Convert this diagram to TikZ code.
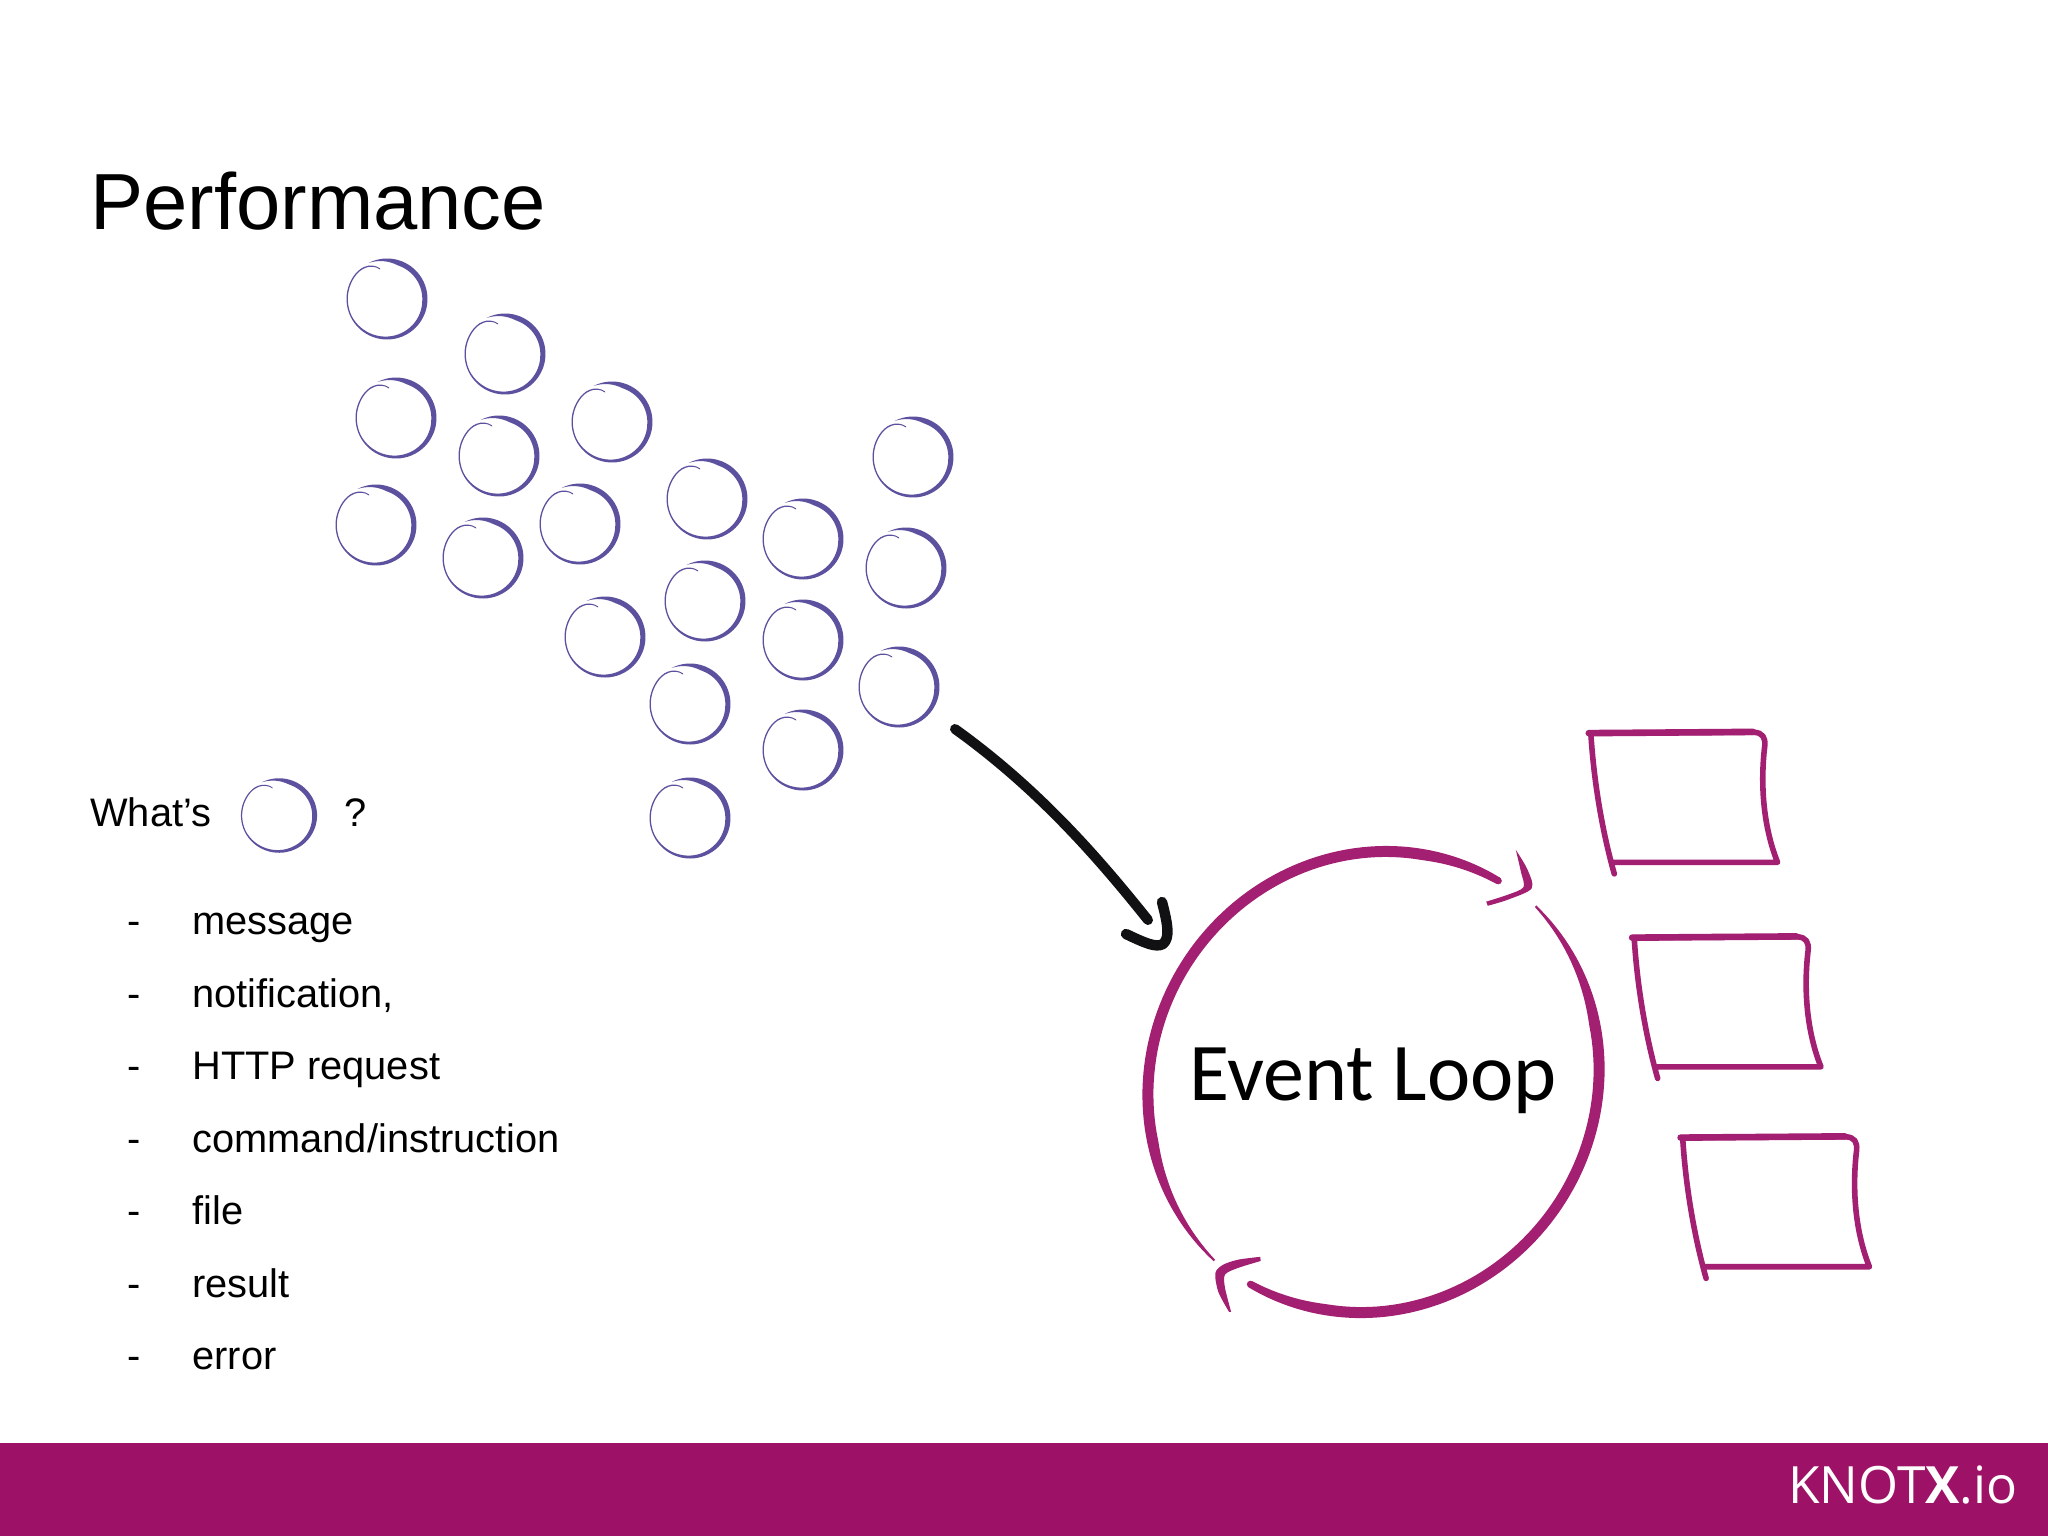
\documentclass[tikz,border=0pt]{standalone}
\usepackage{fontspec}
\setmainfont{Liberation Sans}
\newfontfamily\calibrifont{Carlito}
\newfontfamily\logofont{Open Sans}
\definecolor{bubblecol}{HTML}{5B519F}
\definecolor{ringcol}{HTML}{A31F72}
\definecolor{barcol}{HTML}{9D1266}
\definecolor{inkcol}{HTML}{111114}
\tikzset{
  x=0.5pt,y=-0.5pt,
  title/.style={inner sep=0pt,anchor=base west,font=\fontsize{39.8}{48}\selectfont},
  body/.style={inner sep=0pt,anchor=base west,font=\fontsize{19.9}{24}\selectfont},
  looplabel/.style={inner sep=0pt,anchor=base west,font=\calibrifont\fontsize{41}{48}\selectfont},
  logo/.style={inner sep=0pt,anchor=base east,text=white,font=\logofont\fontsize{25.7}{30}\selectfont},
  inkline/.style={draw=inkcol,line width=5pt,line cap=round,line join=round},
  sheet/.style={draw=ringcol,line width=2.8pt,line join=round,line cap=round},
  bubble/.pic={
    % a hand drawn ring: a stroke of varying width that runs clockwise and spirals in at its end
    \fill[bubblecol]
      plot[domain=117:-257,samples=70] ({-\x}:{ro(\x)})
      -- plot[domain=-257:117,samples=70] ({-\x}:{ro(\x)-wd(\x)})
      -- cycle;
  },
  declare function={
    uu(\t)=(117-\t)/374;
    ss(\t)=max(0,(-212-\t)/45);
    ro(\t)=40.5-9*ss(\t)*ss(\t)*ss(\t);
    wd(\t)=min(1,uu(\t)/0.12)*(1.3+3.9*min(1,max(0,(0.72-uu(\t))/0.4)));
    ringx(\t,\d)=1373.5+(231+\d)*cos(\t)+0.03*(236+\d)*sin(\t);
    ringy(\t,\d)=1082-((236+\d)*sin(\t)+0.025*(231+\d)*cos(\t));
    ringw(\u)=min(min(2+9*\u/0.2,11),7+4*(1-\u)/0.12);
  },
}
\begin{document}
\begin{tikzpicture}
\useasboundingbox (0,0) rectangle (2048,1536);
\fill[white] (0,0) rectangle (2048,1536);
\fill[barcol] (0,1443) rectangle (2048,1536);
\node[logo] (logotext) at (2018,1503) {KNOT\textbf{X}.io};

\node[title] (titletext) at (90,229) {Performance};

\foreach \cx/\cy in {387/299,505/354,396/418,499/456,612/422,376/525,483/558,580/524,
  707/499,803/539,913/457,906/568,705/601,803/640,899/687,605/637,690/704,803/750,690/818}
  \pic at (\cx,\cy) {bubble};

\node[body] (whats) at (90,826) {What’s};
\pic[xscale=0.94,yscale=0.92] at (279,815.5) {bubble};
\node[body] (qmark) at (344,826) {?};

\foreach \yy/\txt [count=\i] in {934/message,1007/{notification,},1079/HTTP request,1152/{command/instruction},1224/file,1297/result,1369/error}{
  \node[body] (dash\i) at (127,\yy) {-};
  \node[body] (item\i) at (192,\yy) {\txt};
}

% black arrow
\coordinate (arrowstart) at (955,729);
\coordinate (arrowend) at (1148,920);
\draw[inkline] (arrowstart) .. controls (1040,790) and (1100,860) .. (arrowend);
\draw[inkline,line width=5.2pt] (1126,934) .. controls (1145,943) and (1156,948) .. (1163,944)
  .. controls (1170,938) and (1168,925) .. (1162,902);

\node[looplabel] (looptext) at (1189,1100) {Event Loop};

% the two arcs of the ring: strokes that grow from a thin start
\fill[ringcol]
  plot[domain=228:58.5,samples=90] ({ringx(\x,0)},{ringy(\x,0)})
  -- plot[domain=58.5:228,samples=90] ({ringx(\x,-ringw((228-\x)/169.5))},{ringy(\x,-ringw((228-\x)/169.5))})
  -- cycle;
\fill[ringcol] ({ringx(58.5,-3.5)},{ringy(58.5,-3.5)}) circle[radius=3.5];
\fill[ringcol]
  plot[domain=47:-121,samples=90] ({ringx(\x,0)},{ringy(\x,0)})
  -- plot[domain=-121:47,samples=90] ({ringx(\x,-ringw((47-\x)/168))},{ringy(\x,-ringw((47-\x)/168))})
  -- cycle;
\fill[ringcol] ({ringx(-121,-3.5)},{ringy(-121,-3.5)}) circle[radius=3.5];

% arrowheads of the ring and the sheets, in a finer unit
\begin{scope}[shift={(1100,700)},x=0.2551pt,y=-0.207pt]
  \fill[ringcol] plot[smooth] coordinates {(815,362) (838,410) (846,455) (800,482) (760,497)}
    -- plot[smooth] coordinates {(757,487) (800,470) (830,452) (825,415) (815,362)} -- cycle;
  \fill[ringcol] plot[smooth] coordinates {(315,1355) (270,1372) (245,1388) (245,1420) (257,1478)}
    -- plot[smooth] coordinates {(253,1478) (232,1430) (226,1385) (240,1365) (270,1352) (314,1345)} -- cycle;
  \foreach \dx/\dy in {0/0,85/494,180/977}{
    \begin{scope}[shift={(\dx,\dy)}]
      \draw[sheet] (1008,420) .. controls (985,320) and (968,200) .. (962,80)
        -- (1280,78) .. controls (1300,78) and (1304,92) .. (1303,110)
        .. controls (1296,180) and (1295,290) .. (1328,392) -- (1005,392);
      \draw[sheet,line width=3.3pt] (958,80) -- (1280,77);
    \end{scope}
  }
\end{scope}
\end{tikzpicture}
\end{document}
